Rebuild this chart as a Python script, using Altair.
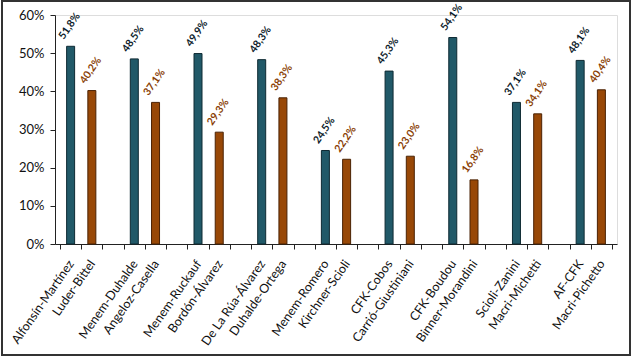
import json
import altair as alt
import pandas as pd

# ---- data ----
pairs = [
    "Alfonsín-Martínez", "Luder-Bittel",
    "Menem-Duhalde", "Angeloz-Casella",
    "Menem-Ruckauf", "Bordón-Álvarez",
    "De La Rúa-Álvarez", "Duhalde-Ortega",
    "Menem-Romero", "Kirchner-Scioli",
    "CFK-Cobos", "Carrió-Giustiniani",
    "CFK-Boudou", "Binner-Morandini",
    "Scioli-Zanini", "Macri-Michetti",
    "AF-CFK", "Macri-Pichetto",
]
values = [51.8, 40.2, 48.5, 37.1, 49.9, 29.3, 48.3, 38.3, 24.5, 22.2,
          45.3, 23.0, 54.1, 16.8, 37.1, 34.1, 48.1, 40.4]
series = ["Ganador", "Segundo"] * 9
y_ticks = [0, 10, 20, 30, 40, 50, 60]

n_slots = 26
rows = []
slot_labels = [""] * (n_slots + 1)
for i, (name, v) in enumerate(zip(pairs, values)):
    slot = (i // 2) * 3 + (i % 2)
    slot_labels[slot] = name
    rows.append({"name": name, "v": v, "serie": series[i], "pos": slot + 0.5})
df = pd.DataFrame(rows)

FONT = "Lato"
W, H = 562, 229
slot_px = W / n_slots

x_scale = alt.Scale(domain=[0, n_slots], nice=False, zero=False)
y_scale = alt.Scale(domain=[0, 60], nice=False)

x_enc = alt.X(
    "pos:Q",
    scale=x_scale,
    axis=alt.Axis(
        values=list(range(n_slots + 1)),
        labelExpr=json.dumps(slot_labels, ensure_ascii=False) + "[datum.value]",
        labelOffset=slot_px / 2,
        labelAngle=-55,
        labelAlign="right",
        labelBaseline="middle",
        labelFont=FONT,
        labelFontSize=12.5,
        labelColor="#111111",
        labelPadding=12,
        tickSize=5,
        tickColor="#222222",
        domainColor="#222222",
        grid=False,
        title=None,
        labelOverlap=False,
        labelBound=False,
        labelFlush=False,
    ),
)
y_enc = alt.Y(
    "v:Q",
    scale=y_scale,
    axis=alt.Axis(
        values=y_ticks,
        labelExpr="datum.value + '%'",
        labelFont=FONT,
        labelFontSize=13,
        labelColor="#111111",
        labelPadding=6,
        tickSize=5,
        tickColor="#222222",
        domainColor="#222222",
        grid=False,
        title=None,
        labelOverlap=False,
        labelFlush=False,
    ),
)

color_scale = alt.Scale(domain=["Ganador", "Segundo"], range=["#215968", "#984807"])
stroke_scale = alt.Scale(domain=["Ganador", "Segundo"], range=["#0e2a33", "#4a2204"])
text_scale = alt.Scale(domain=["Ganador", "Segundo"], range=["#0d1b2a", "#8a3f06"])

bars = alt.Chart(df).mark_bar(width=8, strokeWidth=1).encode(
    x=x_enc,
    y=y_enc,
    fill=alt.Fill("serie:N", scale=color_scale, legend=None),
    stroke=alt.Stroke("serie:N", scale=stroke_scale, legend=None),
)

labels = alt.Chart(df).transform_calculate(
    lab="replace(format(datum.v, '.1f'), '.', ',') + '%'"
).mark_text(
    angle=305, align="center", baseline="middle", font=FONT, fontSize=10.5,
    fontWeight="bold", yOffset=-20, xOffset=-1,
).encode(
    x=x_enc,
    y=y_enc,
    text="lab:N",
    color=alt.Color("serie:N", scale=text_scale, legend=None),
)

frame = alt.Chart(pd.DataFrame({"a": [0]})).mark_rect(
    fill=None, stroke="#333333", strokeWidth=2
).encode(
    x=alt.value(-53), x2=alt.value(575), y=alt.value(-14), y2=alt.value(340)
)

chart = alt.layer(bars, labels, frame).properties(
    width=W, height=H,
    autosize=alt.AutoSizeParams(type="none"),
    padding={"left": 55, "top": 15, "right": 14, "bottom": 113},
).configure_view(stroke=None).configure(background="white")

chart.save("out.html", embed_options={"renderer": "svg", "actions": False})
